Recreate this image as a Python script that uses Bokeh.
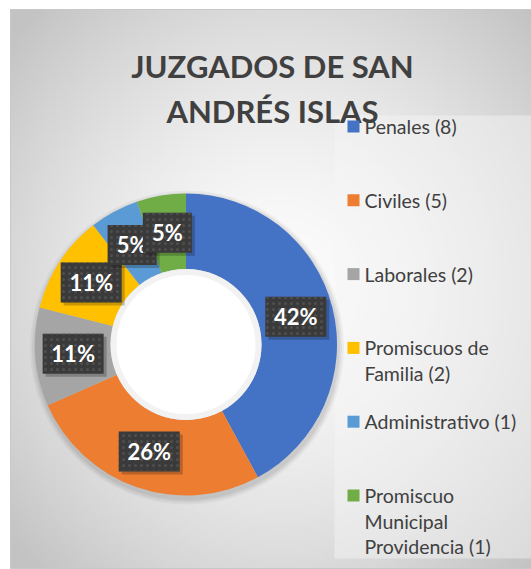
import numpy as np
from bokeh.plotting import figure
from bokeh.models import Range1d, ColumnDataSource
from bokeh.embed import file_html
from bokeh.resources import INLINE
from bokeh.core.properties import value

# ---- data ----
CATEGORIES = ["Penales", "Civiles", "Laborales", "Promiscuos de Familia",
              "Administrativo", "Promiscuo Municipal Providencia"]
COUNTS = [8, 5, 2, 2, 1, 1]
COLORS = ["#4472C4", "#ED7D31", "#A5A5A5", "#FFC000", "#5B9BD5", "#70AD47"]
LEGEND_LINES = [["Penales (8)"], ["Civiles (5)"], ["Laborales (2)"],
                ["Promiscuos de", "Familia (2)"], ["Administrativo (1)"],
                ["Promiscuo", "Municipal", "Providencia (1)"]]
TITLE_LINES = ["JUZGADOS DE SAN", "ANDRÉS ISLAS"]

W, H = 531, 569
FONT = "Lato"
TXT = "#404040"


def sx(x):
    return x


def sy(y):
    return H - y


p = figure(width=W, height=H, x_range=Range1d(0, W), y_range=Range1d(0, H),
           output_backend="svg", toolbar_location=None, min_border=0)
p.axis.visible = False
p.grid.visible = False
p.outline_line_color = None
p.background_fill_color = "white"
p.border_fill_color = "white"

# ---- background (radial gray gradient) ----
ny, nx = 140, 140
yy, xx = np.mgrid[0:ny, 0:nx]
u = (xx + 0.5) / nx
v = (yy + 0.5) / ny
d = np.sqrt(((u - 0.52) / 0.62) ** 2 + ((v - 0.5) / 0.62) ** 2)
g = np.clip(252 - 48 * np.clip(d, 0, 1.3) ** 1.6, 195, 255).astype(np.uint32)
img = (255 << 24) | (g << 16) | (g << 8) | g
p.image_rgba(image=[img.astype(np.uint32)], x=sx(10), y=sy(568), dw=531 - 10, dh=568 - 9)
p.quad(left=sx(10), right=sx(531), bottom=sy(568), top=sy(9), fill_color=None,
       line_color="#c8c8c8", line_width=1)

# ---- legend panel ----
p.quad(left=sx(334), right=sx(531), bottom=sy(558), top=sy(115),
       fill_color="#f6f6f6", fill_alpha=0.45, line_color=None)

# ---- donut ----
cx, cy = sx(185.5), sy(344)
r_out, r_in = 151, 75.5
vals = np.array(COUNTS, dtype=float)
total = vals.sum()
c1 = np.cumsum(vals) / total
c0 = c1 - vals / total
start = np.pi / 2 - 2 * np.pi * c1
end = np.pi / 2 - 2 * np.pi * c0

# soft shadow
for k, a in [(6, 0.04), (4, 0.05), (2, 0.06)]:
    p.annular_wedge(x=cx + 1, y=cy - 3, inner_radius=r_in - k, outer_radius=r_out + k,
                    start_angle=0, end_angle=2 * np.pi, fill_color="#000000",
                    fill_alpha=a, line_color=None)

src = ColumnDataSource(dict(start=start, end=end, color=COLORS, cat=CATEGORIES))
p.annular_wedge(x=cx, y=cy, inner_radius=r_in, outer_radius=r_out,
                start_angle="start", end_angle="end", direction="anticlock",
                fill_color="color", line_color=None, source=src)
# inner hole
p.circle(x=cx, y=cy, radius=r_in, fill_color="#ffffff", line_color=None)
p.annular_wedge(x=cx, y=cy, inner_radius=r_in - 6, outer_radius=r_in,
                start_angle=0, end_angle=2 * np.pi, fill_color="#000000",
                fill_alpha=0.05, line_color=None)

# ---- data labels ----
mid = (c0 + c1) / 2
ang = np.pi / 2 - 2 * np.pi * mid
r_mid = (r_out + r_in) / 2
lx = cx + r_mid * np.cos(ang)
ly = cy + r_mid * np.sin(ang)
labels = [f"{round(v / total * 100)}%" for v in vals]
for i in range(len(vals)):
    bw = 12 * len(labels[i]) + 25
    p.rect(x=lx[i] + 3, y=ly[i] - 3, width=bw, height=40, fill_color="#000000",
           fill_alpha=0.22, line_color=None)
    p.rect(x=lx[i], y=ly[i], width=bw, height=40, fill_color="#3a3a3a",
           line_color=None, hatch_pattern="dot", hatch_color="#4f4f4f",
           hatch_scale=6, hatch_weight=1)
    p.text(x=[lx[i]], y=[ly[i]], text=[labels[i]], text_color="white",
           text_font=value(FONT), text_font_style="bold", text_font_size="22px",
           text_align="center", text_baseline="middle")

# ---- title ----
for j, t in enumerate(TITLE_LINES):
    p.text(x=[sx(272)], y=[sy(65 + 45.5 * j)], text=[t], text_color=TXT,
           text_font=value(FONT), text_font_style="bold", text_font_size="31px",
           text_align="center", text_baseline="alphabetic")

# ---- legend ----
for i, lines in enumerate(LEGEND_LINES):
    y0 = 126 + 73.8 * i
    p.rect(x=sx(353), y=sy(y0), width=12, height=12, fill_color=COLORS[i], line_color=None)
    for k, ln in enumerate(lines):
        p.text(x=[sx(364)], y=[sy(y0 + 25.5 * k)], text=[ln], text_color=TXT,
               text_font=value(FONT), text_font_size="19.5px",
               text_align="left", text_baseline="middle")

open("out.html", "w").write(file_html(p, INLINE))
